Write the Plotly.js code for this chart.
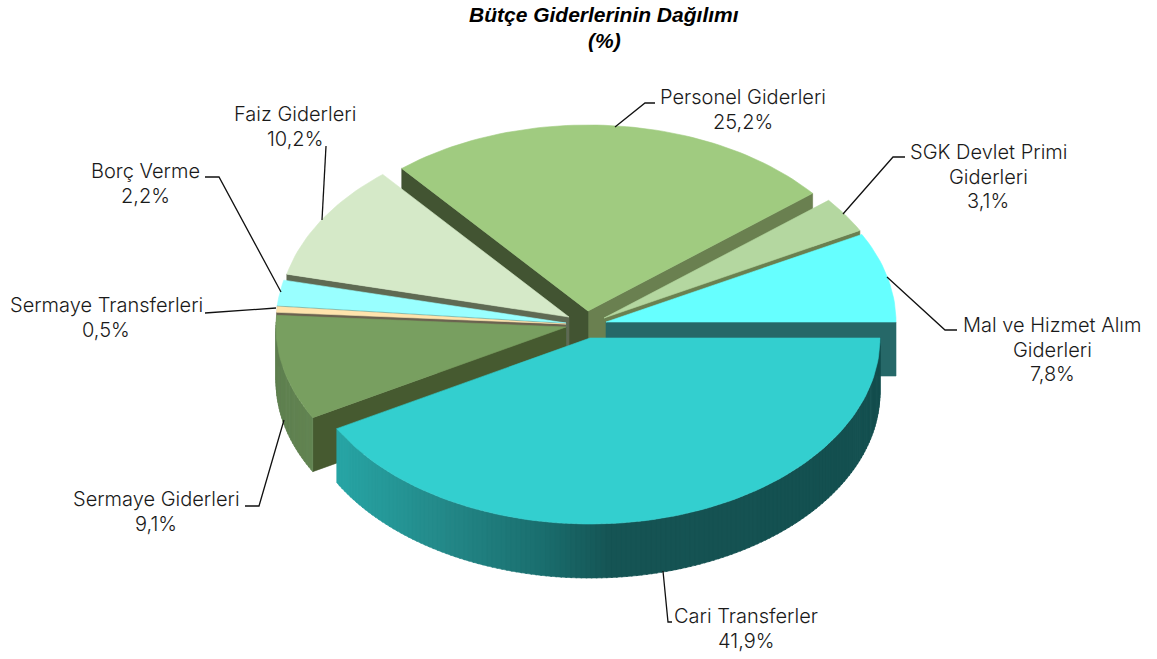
<!DOCTYPE html>
<html>
<head>
<meta charset="utf-8">
<script src="https://cdn.plot.ly/plotly-3.0.1.min.js"></script>
<style>html,body{margin:0;padding:0;background:#fff}#chart{width:1157px;height:659px}</style>
</head>
<body>
<div id="chart"></div>
<script>
// ---- data, clockwise from the first slice ----
var categories = ["Personel Giderleri","SGK Devlet Primi Giderleri","Mal ve Hizmet Alım Giderleri","Cari Transferler","Sermaye Giderleri","Sermaye Transferleri","Borç Verme","Faiz Giderleri"];
var values = [25.2, 3.1, 7.8, 41.9, 9.1, 0.5, 2.2, 10.2];
var valueLabels = ["25,2%","3,1%","7,8%","41,9%","9,1%","0,5%","2,2%","10,2%"];
var labelLines = [["Personel Giderleri"],["SGK Devlet Primi","Giderleri"],["Mal ve Hizmet Alım","Giderleri"],["Cari Transferler"],["Sermaye Giderleri"],["Sermaye Transferleri"],["Borç Verme"],["Faiz Giderleri"]];
var titleLines = ["Bütçe Giderlerinin Dağılımı","(%)"];

// ---- style ----
var topColors  = ["#a0cb80","#b4d7a0","#66ffff","#33cfcf","#789f60","#ffe4ad","#99ffff","#d5e9c8"];
var startWall  = ["#6a8050","#6a8050","#266868","#266868","#465a30","#6b6350","#4a8a8a","#5f6a53"];
var endWall    = ["#425432","#425432","#266868","#266868","#465a30","#6b6350","#4a8a8a","#5f6a53"];
var rimRamps   = {3:[[338,[39,165,165]],[450,[35,135,135]],[540,[26,111,111]],[612,[21,84,84]],[900,[20,79,79]]],
                  4:[[277,[95,128,80]],[338,[100,135,83]]]};
var centersX   = [588,604,606,590,566,566,566,569];
var centersY   = [311,318,322,338,327,324,323,317];
var paintOrder = [0,1,7,6,5,4,2,3];
var firstAngle = 129.96, radiusX = 290, radiusY = 186, depth = 54;
var labelX  = [743,988,1052,746,156,106,145,295];
var labelY  = [97,152,325,616,499,305,171,114];
var leaderX = [[615,645,655],[843,893,905],[887,945,957],[663,668,672],[284,259,245],[276,212,205],[281,219,205],[322,326]];
var leaderY = [[127,103,103],[214,157,157],[277,330,330],[571,622,622],[420,506,506],[308,313,313],[292,177,177],[220,146]];
var labelFont = {family:"Inter, sans-serif", size:20, weight:300, color:"#1a1a1a"};
var rowH = 24.6;

// ---- build ----
var traces = [], annotations = [];
function poly(xs, ys, color){
  traces.push({type:"scatter",mode:"lines",x:xs.concat([xs[0]]),y:ys.concat([ys[0]]),fill:"toself",
    fillcolor:color,line:{color:color,width:0.6},hoverinfo:"skip",showlegend:false});
}
function rad(d){return d*Math.PI/180;}
function rimPt(i,a){return [centersX[i]+radiusX*Math.cos(rad(a)), centersY[i]-radiusY*Math.sin(rad(a))];}
function ramp(stops,x){
  if(x<=stops[0][0]) return stops[0][1];
  for(var k=1;k<stops.length;k++){
    if(x<=stops[k][0]){
      var f=(x-stops[k-1][0])/(stops[k][0]-stops[k-1][0]);
      return stops[k][1].map(function(c,j){return c*f+stops[k-1][1][j]*(1-f);});
    }
  }
  return stops[stops.length-1][1];
}
function rgb(c){return "rgb("+c.map(Math.round).join(",")+")";}
function norm(a){return ((a%360)+360)%360;}

// angular extent of each slice, walking clockwise from firstAngle
var total = values.reduce(function(s,v){return s+v;},0);
var a0 = [], a1 = [], walk = firstAngle;
values.forEach(function(v){ a1.push(walk); walk -= v/total*360; a0.push(walk); });

paintOrder.forEach(function(i){
  var cx=centersX[i], cy=centersY[i], lo=a0[i], hi=a1[i];
  // straight side walls that face the viewer
  if(Math.sin(rad(lo-90))<0){
    var p=rimPt(i,lo);
    poly([cx,p[0],p[0],cx],[cy,p[1],p[1]+depth,cy+depth],startWall[i]);
  }
  if(Math.sin(rad(hi+90))<0){
    var q=rimPt(i,hi);
    poly([cx,q[0],q[0],cx],[cy,q[1],q[1]+depth,cy+depth],endWall[i]);
  }
  // curved outer wall: only the front half of the rim shows
  if(rimRamps[i]){
    var step=1;
    for(var a=lo;a<hi;a+=step){
      var e=Math.min(a+step+0.3,hi), m=norm(a+step/2);
      if(Math.sin(rad(m))>0.02) continue;
      var s=rimPt(i,a), t=rimPt(i,e);
      poly([s[0],t[0],t[0],s[0]],[s[1],t[1],t[1]+depth,s[1]+depth],rgb(ramp(rimRamps[i],(s[0]+t[0])/2)));
    }
  }
  // top face
  var xs=[cx], ys=[cy], n=Math.max(4,Math.ceil((hi-lo)/1.5));
  for(var k=0;k<=n;k++){
    var r=rimPt(i,lo+(hi-lo)*k/n); xs.push(r[0]); ys.push(r[1]);
  }
  poly(xs,ys,topColors[i]);
});

// leader lines
leaderX.forEach(function(lx,i){
  traces.push({type:"scatter",mode:"lines",x:lx,y:leaderY[i],line:{color:"#111",width:1.3},hoverinfo:"skip",showlegend:false});
});

// labels
categories.forEach(function(c,i){
  var rows=labelLines[i].concat([valueLabels[i]]);
  rows.forEach(function(txt,r){
    annotations.push({xref:"x",yref:"y",x:labelX[i],y:labelY[i]+r*rowH,text:txt,showarrow:false,
      xanchor:"center",yanchor:"middle",font:labelFont});
  });
});
titleLines.forEach(function(txt,r){
  annotations.push({xref:"x",yref:"y",x:604,y:14.5+r*26,text:"<b><i>"+txt+"</i></b>",showarrow:false,
    xanchor:"center",yanchor:"middle",font:{family:"Liberation Sans, Arial, sans-serif",size:21,color:"#000"}});
});

Plotly.newPlot("chart",traces,{
  width:1157,height:659,margin:{l:0,r:0,t:0,b:0},
  paper_bgcolor:"#fff",plot_bgcolor:"#fff",showlegend:false,
  xaxis:{range:[0,1157],visible:false,fixedrange:true},
  yaxis:{range:[659,0],visible:false,fixedrange:true},
  annotations:annotations
},{displayModeBar:false,staticPlot:true});
</script>
</body>
</html>
